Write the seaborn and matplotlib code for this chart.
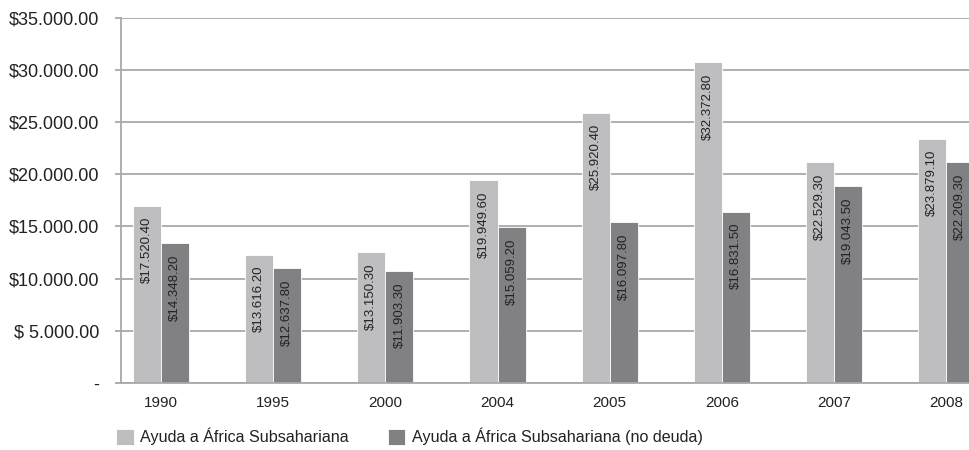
import pandas as pd
import seaborn as sns
import matplotlib
matplotlib.use("Agg")
import matplotlib.pyplot as plt
from matplotlib.ticker import FuncFormatter

years = ["1990", "1995", "2000", "2004", "2005", "2006", "2007", "2008"]
series_names = ["Ayuda a África Subsahariana", "Ayuda a África Subsahariana (no deuda)"]
# bar heights as drawn in the picture
ayuda_total = [16950, 12300, 12500, 19400, 25900, 30700, 21150, 23400]
ayuda_no_deuda = [13400, 11000, 10700, 14900, 15400, 16400, 18850, 21150]
# labels printed inside the bars
labels_total = ["$17.520.40", "$13.616.20", "$13.150.30", "$19.949.60",
                "$25.920.40", "$32.372.80", "$22.529.30", "$23.879.10"]
labels_no_deuda = ["$14.348.20", "$12.637.80", "$11.903.30", "$15.059.20",
                   "$16.097.80", "$16.831.50", "$19.043.50", "$22.209.30"]

df = pd.DataFrame({
    "year": years * 2,
    "value": ayuda_total + ayuda_no_deuda,
    "serie": [series_names[0]] * len(years) + [series_names[1]] * len(years),
})

sns.set_style("white")
plt.rcParams["font.family"] = ["Liberation Sans", "DejaVu Sans"]

fig = plt.figure(figsize=(9.69, 4.5), dpi=100)
ax = fig.add_axes([0.125, 0.149, 0.875, 0.812])

sns.barplot(data=df, x="year", y="value", hue="serie", order=years,
            hue_order=series_names, palette=["#bdbec2", "#808185"],
            width=0.5, gap=0, edgecolor="white", linewidth=0.6,
            legend=True, ax=ax)

for cont, labs in zip(ax.containers, [labels_total, labels_no_deuda]):
    for bar, lab in zip(cont, labs):
        ax.annotate(lab, xy=(bar.get_x() + bar.get_width() / 2, bar.get_height()),
                    xytext=(0, -8), textcoords="offset points",
                    ha="center", va="top", rotation=90, fontsize=9.5, color="#222222")

ax.set_ylim(0, 35000)
ax.set_xlim(-0.357, 7.205)
ax.set_yticks(range(0, 35001, 5000))


def money(v, pos):
    if v == 0:
        return "-"
    s = f"{v:,.2f}".replace(",", ".")
    if v < 10000:
        return "$ " + s
    return "$" + s


ax.yaxis.set_major_formatter(FuncFormatter(money))
ax.yaxis.grid(True, color="#a8a8a8", linewidth=1.3)
ax.set_axisbelow(True)
for side in ["top", "right"]:
    ax.spines[side].set_visible(False)
for side in ["left", "bottom"]:
    ax.spines[side].set_color("#a8a8a8")
    ax.spines[side].set_linewidth(1.3)
ax.tick_params(axis="y", left=True, length=4, width=1.3, color="#a8a8a8",
               pad=12, labelsize=13, labelcolor="#222222")
ax.tick_params(axis="x", bottom=False, pad=6, labelsize=11, labelcolor="#222222")
ax.set_xlabel("")
ax.set_ylabel("")

handles, texts = ax.get_legend_handles_labels()
ax.legend_.remove()
fig.legend(handles, texts, loc="lower left", bbox_to_anchor=(0.105, -0.022),
           ncol=2, frameon=False, fontsize=11.6, handlelength=1.1, handleheight=1.1,
           handletextpad=0.4, columnspacing=2.4, labelcolor="#222222")

fig.savefig("out.png", dpi=100)
